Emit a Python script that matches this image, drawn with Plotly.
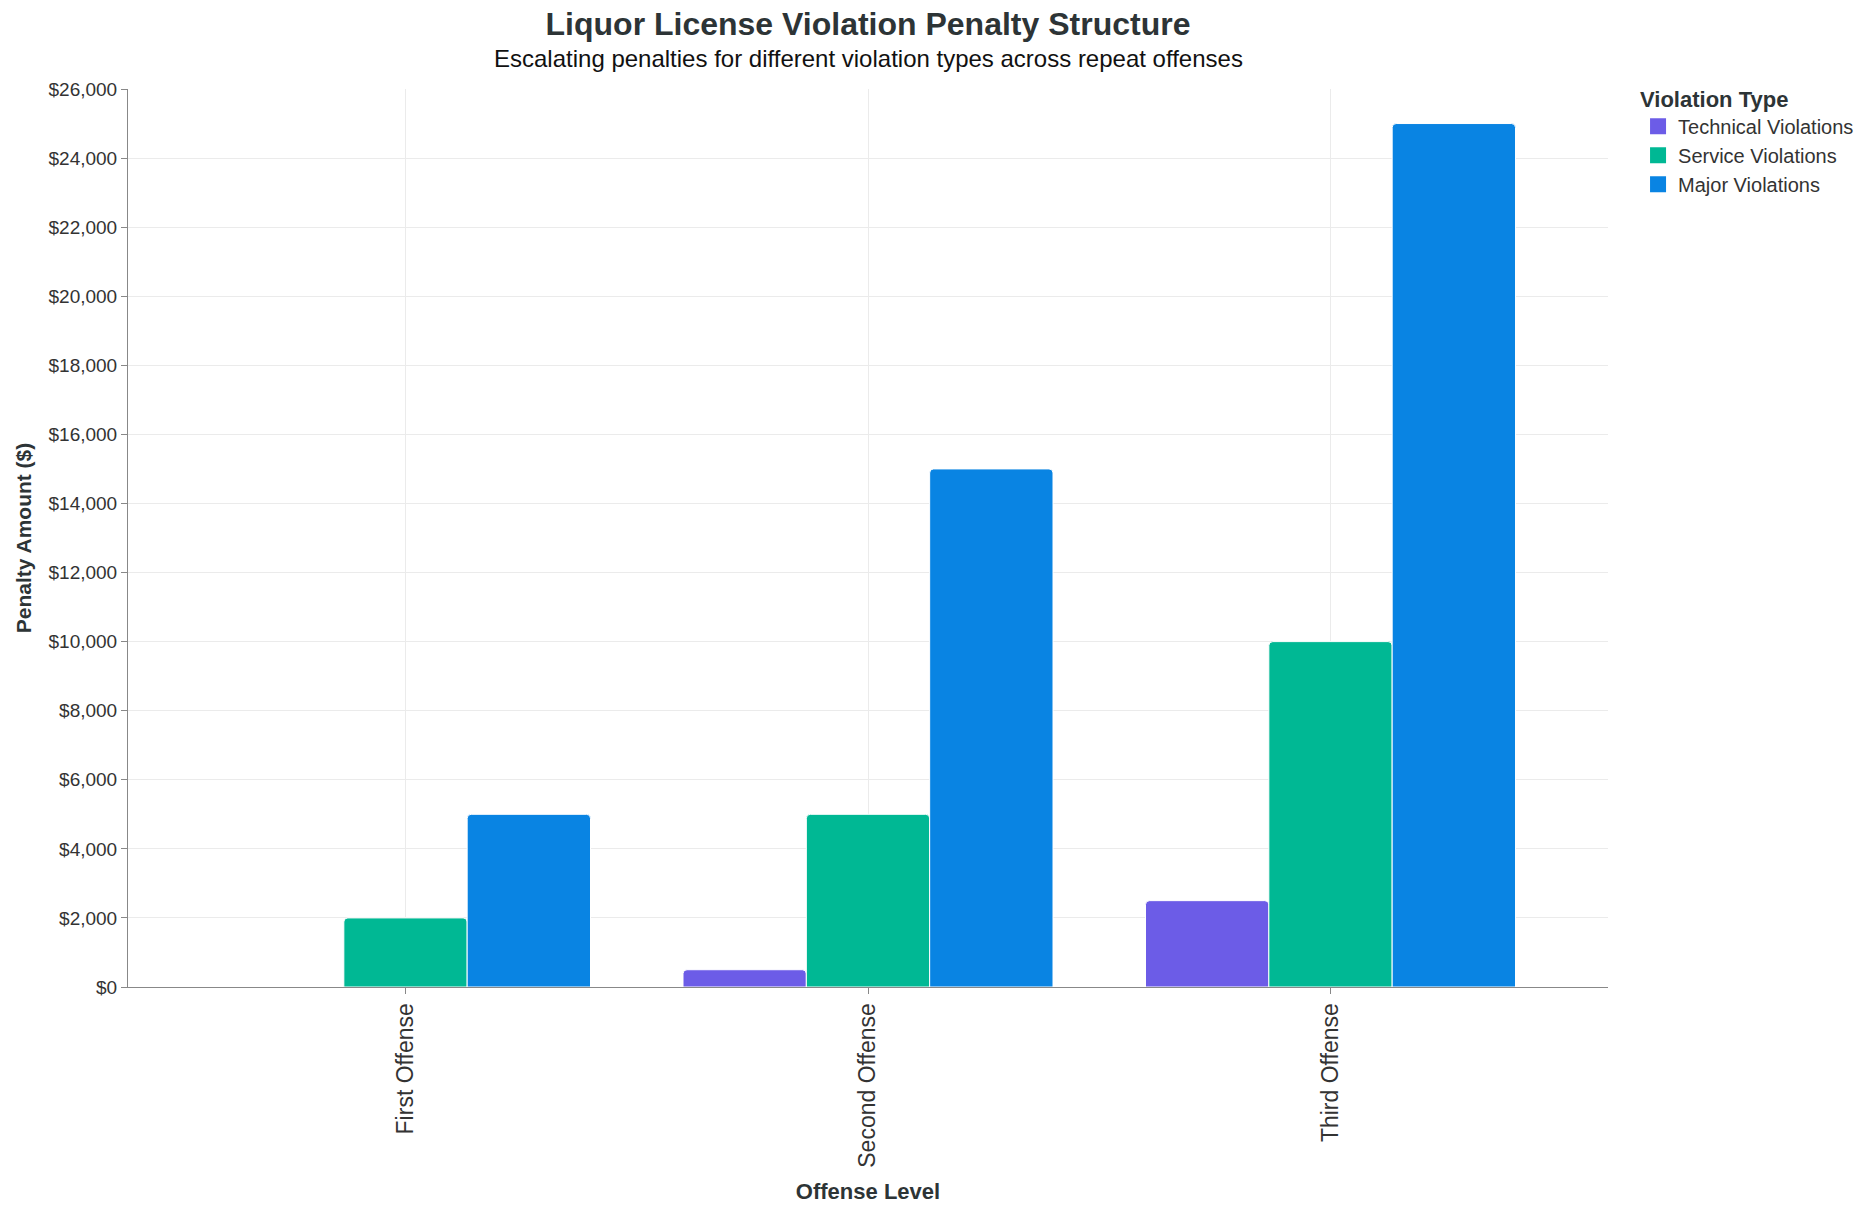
import plotly.graph_objects as go

offense_levels = ["First Offense", "Second Offense", "Third Offense"]
technical = [0, 500, 2500]
service = [2000, 5000, 10000]
major = [5000, 15000, 25000]
series_names = ["Technical Violations", "Service Violations", "Major Violations"]
series_colors = ["#6c5ce7", "#00b894", "#0984e3"]
y_ticks = list(range(0, 26001, 2000))

font_family = "Liberation Sans, Arial, sans-serif"
text_color = "#333333"
title_color = "#2d3436"

fig = go.Figure()
for name, vals, col in zip(series_names, [technical, service, major], series_colors):
    fig.add_trace(go.Bar(
        x=offense_levels, y=vals, name=name, showlegend=False, legendgroup=name,
        marker=dict(color=col, line=dict(color="white", width=1), cornerradius=4),
        hovertemplate="%{x}<br>" + name + ": $%{y:,}<extra></extra>",
    ))
# legend entries with larger square swatches
for name, col in zip(series_names, series_colors):
    fig.add_trace(go.Scatter(
        x=[None], y=[None], mode="markers", name=name, legendgroup=name,
        marker=dict(symbol="square", size=18, color=col),
        showlegend=True,
    ))

fig.update_layout(
    width=1862, height=1214,
    margin=dict(l=128, r=254, t=89, b=227, autoexpand=False),
    paper_bgcolor="white", plot_bgcolor="white",
    barmode="group", bargap=0.2, bargroupgap=0,
    font=dict(family=font_family, color=text_color, size=19),
    title=dict(
        text="<b>Liquor License Violation Penalty Structure</b>",
        x=0.5, xref="paper", xanchor="center",
        y=1 - 24/1214, yref="container", yanchor="middle",
        font=dict(size=32, color=title_color, family=font_family),
    ),
    legend=dict(
        title=dict(text="<b>Violation Type</b>", font=dict(size=22, color=title_color)),
        x=1.0203, xanchor="left", y=1.012, yanchor="top",
        font=dict(size=20, color=text_color), tracegroupgap=0, itemwidth=30,
        itemsizing="trace",
    ),
    xaxis=dict(
        type="category", range=[-0.6, 2.6], automargin=False,
        showgrid=True, gridcolor="#ebebeb", gridwidth=1,
        showline=True, linecolor="#888888", linewidth=1,
        ticks="outside", ticklen=6, tickcolor="#888888",
        tickangle=-90, tickfont=dict(size=23),
        title=dict(text="<b>Offense Level</b>", font=dict(size=22, color=title_color), standoff=16),
        zeroline=False,
    ),
    yaxis=dict(
        range=[0, 26000], tickvals=y_ticks, automargin=False,
        tickformat="$,.0f",
        showgrid=True, gridcolor="#ebebeb", gridwidth=1,
        showline=True, linecolor="#888888", linewidth=1,
        ticks="outside", ticklen=6, tickcolor="#888888",
        tickfont=dict(size=19),
        title=dict(text="<b>Penalty Amount ($)</b>", font=dict(size=21, color=title_color), standoff=11),
        zeroline=False,
    ),
    annotations=[dict(
        text="Escalating penalties for different violation types across repeat offenses",
        xref="paper", yref="paper", x=0.5, y=1 + 30/898, xanchor="center", yanchor="middle",
        showarrow=False, font=dict(size=24, color="#111111", family=font_family),
    )],
)

fig.write_html("out.html")
